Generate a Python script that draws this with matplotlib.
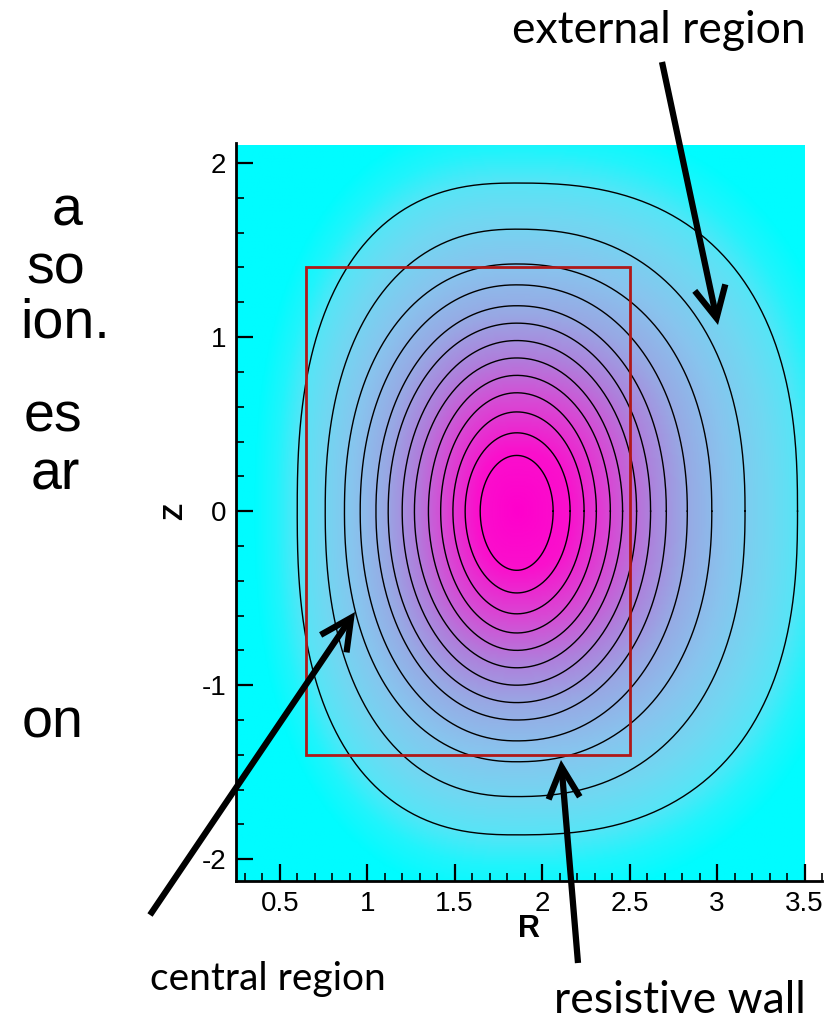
import numpy as np
import matplotlib
matplotlib.use("Agg")
import matplotlib.pyplot as plt
from matplotlib.colors import LinearSegmentedColormap
from matplotlib.patches import Rectangle, FancyArrowPatch

plt.rcParams["axes.unicode_minus"] = False

# contour shapes (outer -> inner)
R0 = 1.855
Z0 = 0.0
c_left = [0.60, 0.76, 0.87, 0.96, 1.05, 1.12, 1.20, 1.27, 1.35, 1.42, 1.49, 1.56, 1.646]
c_right = [3.46, 3.16, 2.97, 2.83, 2.71, 2.62, 2.54, 2.46, 2.39, 2.31, 2.24, 2.16, 2.063]
c_top = [1.885, 1.62, 1.42, 1.30, 1.18, 1.08, 0.98, 0.88, 0.78, 0.68, 0.57, 0.45, 0.32]
c_bottom = [-1.86, -1.64, -1.44, -1.32, -1.20, -1.10, -1.0, -0.9, -0.8, -0.7, -0.59, -0.47, -0.34]
c_square = [2.5, 2.3, 2.2, 2.12, 2.08, 2.05, 2.02, 2.0, 2.0, 2.0, 2.0, 2.0, 2.0]

# resistive wall (red box)
wall_R = [0.65, 2.50]
wall_Z = [-1.40, 1.40]

side_text = ["a", "so", "ion.", "es", "ar", "on"]
side_right = [82, 85, 110, 82, 80, 84]
side_base = [226, 283, 337, 432, 490, 737]


def contour_curve(l, r, t, b, p, n=400):
    th = np.linspace(0, 2*np.pi, n)
    c = np.cos(th)
    s = np.sin(th)
    a = np.where(c > 0, r - R0, R0 - l)
    h = np.where(s > 0, t - Z0, Z0 - b)
    R = R0 + a*np.sign(c)*np.abs(c)**(2.0/p)
    Z = Z0 + h*np.sign(s)*np.abs(s)**(2.0/p)
    return R, Z


def rho_field(RR, ZZ, l, r, t, b, p):
    a = np.where(RR > R0, r - R0, R0 - l)
    h = np.where(ZZ > Z0, t - Z0, Z0 - b)
    return ((np.abs(RR - R0)/a)**p + (np.abs(ZZ - Z0)/h)**p)**(1.0/p)


W, H = 835, 1024
fig = plt.figure(figsize=(W/100, H/100), dpi=100)
ax = fig.add_axes([236/W, 1 - 881/H, (822 - 236)/W, (881 - 143)/H])

cmap = LinearSegmentedColormap.from_list("psi", [
    (0.0, "#ff00cc"), (0.18/1.2, "#fa10cc"), (0.33/1.2, "#d848d4"), (0.47/1.2, "#ae80dc"),
    (0.6/1.2, "#98a8e4"), (0.75/1.2, "#88c4ee"), (0.9/1.2, "#70d8f2"), (1.0/1.2, "#58e4f6"),
    (1.1/1.2, "#20f4fc"), (1.0, "#00fcff")])

rr = np.linspace(0.25, 3.5, 400)
zz = np.linspace(-2.125, 2.1, 500)
RR, ZZ = np.meshgrid(rr, zz)
rho = rho_field(RR, ZZ, c_left[0], c_right[0], c_top[0], c_bottom[0], 2.4)
ax.imshow(np.clip(rho/1.2, 0, 1), extent=(0.25, 3.5, -2.125, 2.1), origin="lower",
          cmap=cmap, vmin=0, vmax=1, aspect="auto", interpolation="bilinear", zorder=0)

for i in range(len(c_left)):
    R, Z = contour_curve(c_left[i], c_right[i], c_top[i], c_bottom[i], c_square[i])
    ax.plot(R, Z, color="black", lw=1.0, zorder=2)

ax.add_patch(Rectangle((wall_R[0], wall_Z[0]), wall_R[1] - wall_R[0], wall_Z[1] - wall_Z[0],
                       fill=False, edgecolor="#b01818", lw=2.0, zorder=3))

ax.set_xlim(0.25, 3.6)
ax.set_ylim(-2.125, 2.115)
ax.set_xticks([0.5, 1, 1.5, 2, 2.5, 3, 3.5])
ax.set_xticklabels(["0.5", "1", "1.5", "2", "2.5", "3", "3.5"])
ax.set_yticks([-2, -1, 0, 1, 2])
ax.set_xticks(np.arange(0.3, 3.61, 0.1), minor=True)
ax.set_yticks(np.arange(-2.0, 2.01, 0.2), minor=True)
ax.tick_params(which="major", direction="in", length=12, width=1.6, labelsize=20, pad=7)
ax.tick_params(which="minor", direction="in", length=6, width=1.2)
for lab in ax.get_xticklabels() + ax.get_yticklabels():
    lab.set_family("Liberation Sans")
ax.spines["top"].set_visible(False)
ax.spines["right"].set_visible(False)
ax.spines["left"].set_linewidth(2)
ax.spines["bottom"].set_linewidth(2)
ax.set_xlabel("R", fontsize=22, fontweight="bold", family="Liberation Sans", labelpad=-2)
ax.set_ylabel("Z", fontsize=20, fontweight="bold", family="Liberation Sans", labelpad=10)


def fp(x, y):
    return (x/W, 1 - y/H)


for t, xr, yb in zip(side_text, side_right, side_base):
    fig.text(*fp(xr, yb), t, ha="right", va="baseline", fontsize=40, family="Liberation Sans")

fig.text(*fp(659, 43), "external region", ha="center", va="baseline", fontsize=32, family="Lato")
fig.text(*fp(150, 990), "central region", ha="left", va="baseline", fontsize=28, family="Lato")
fig.text(*fp(680, 1013), "resistive wall", ha="center", va="baseline", fontsize=32, family="Lato")

arrows = [((662, 62), (718, 325)), ((150, 915), (355, 612)), ((578, 963), (561, 760))]
for a, b in arrows:
    fig.add_artist(FancyArrowPatch(fp(*a), fp(*b), transform=fig.transFigure,
                                   arrowstyle="->,head_length=0.9,head_width=0.45",
                                   mutation_scale=25, lw=4.5, color="black",
                                   shrinkA=0, shrinkB=0, joinstyle="miter", capstyle="butt"))

fig.savefig("out.png", dpi=100)
